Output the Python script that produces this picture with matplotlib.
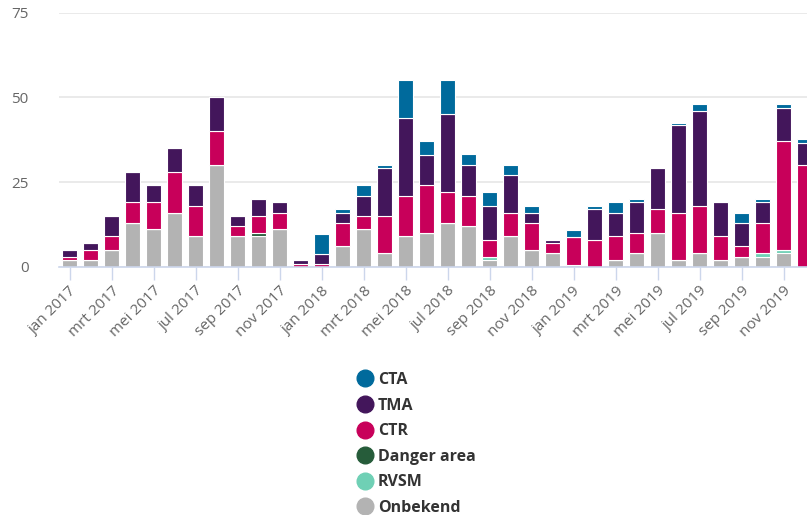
import numpy as np
import matplotlib
matplotlib.use("Agg")
import matplotlib.pyplot as plt
from matplotlib.lines import Line2D

plt.rcParams['font.family'] = ['Open Sans', 'DejaVu Sans']

maanden = ["jan", "feb", "mrt", "apr", "mei", "jun", "jul", "aug", "sep", "okt", "nov", "dec"]
jaren = [2017, 2018, 2019]
labels = [m + " " + str(j) for j in jaren for m in maanden]

# waarden per maand, jan 2017 t/m dec 2019
onbekend = [2, 2, 5, 13, 11, 16, 9, 30, 9, 9, 11, 0,
            0, 6, 11, 4, 9, 10, 13, 12, 2, 9, 5, 4,
            0.6, 0, 2, 4, 10, 2, 4, 2, 3, 3, 4, 0]
rvsm = [0, 0, 0, 0, 0, 0, 0, 0, 0, 0, 0, 0,
        0, 0, 0, 0, 0, 0, 0, 0, 1, 0, 0, 0,
        0, 0, 0, 0, 0, 0, 0, 0, 0, 1, 1, 0]
danger = [0, 0, 0, 0, 0, 0, 0, 0, 0, 1, 0, 0,
          0, 0, 0, 0, 0, 0, 0, 0, 0, 0, 0, 0,
          0, 0, 0, 0, 0, 0, 0, 0, 0, 0, 0, 0]
ctr = [1, 3, 4, 6, 8, 12, 9, 10, 3, 5, 5, 0.7,
       0.7, 7, 4, 11, 12, 14, 9, 9, 5, 7, 8, 3,
       8.2, 8, 7, 6, 7, 14, 14, 7, 3, 9, 32, 30]
tma = [2, 2, 6, 9, 5, 7, 6, 10, 3, 5, 3, 1.2,
       3, 3, 6, 14, 23, 9, 23, 9, 10, 11, 3, 1,
       0, 9, 7, 9, 12, 25.8, 28, 10, 7, 6, 10, 6.5]
cta = [0, 0, 0, 0, 0, 0, 0, 0, 0, 0, 0, 0,
       6, 1, 3, 1, 11, 4, 10, 3.3, 4, 3, 2, 0,
       2, 1, 3, 1, 0, 0.6, 2, 0, 3, 1, 1, 1.3]

series = [
    ("Onbekend", onbekend, "#b3b3b3"),
    ("RVSM", rvsm, "#6fd0b5"),
    ("Danger area", danger, "#265c3a"),
    ("CTR", ctr, "#c8005a"),
    ("TMA", tma, "#43165b"),
    ("CTA", cta, "#006a9c"),
]

W, H = 807, 515
fig = plt.figure(figsize=(W / 100, H / 100), dpi=100)
left, right = 59, 815
bottom, top = 266.7, 12.7
ax = fig.add_axes([left / W, 1 - bottom / H, (right - left) / W, (bottom - top) / H])

x = np.arange(len(labels))
base = np.zeros(len(labels))
for naam, vals, kleur in series:
    vals = np.array(vals, dtype=float)
    ax.bar(x, vals, bottom=base, width=0.72, color=kleur, edgecolor="white", linewidth=0.8, zorder=3)
    base += vals

ax.set_xlim(-0.5, len(labels) - 0.5)
ax.set_ylim(0, 75)
ax.set_yticks([0, 25, 50, 75])
ax.yaxis.grid(True, color="#e6e6e6", linewidth=1.2, zorder=0)
for s in ["top", "right", "left"]:
    ax.spines[s].set_visible(False)
ax.spines["bottom"].set_color("#ccd6eb")
ax.spines["bottom"].set_linewidth(1.2)
ax.spines["bottom"].set_zorder(4)
ax.tick_params(axis="y", length=0, pad=22, labelsize=11, labelcolor="#666666")
ax.set_xticks(x[::2])
ax.set_xticklabels(labels[::2], rotation=45, ha="right", va="top", rotation_mode="anchor")
ax.tick_params(axis="x", length=9, width=1, color="#ccd6eb", pad=3, labelsize=11, labelcolor="#666666")

order = ["CTA", "TMA", "CTR", "Danger area", "RVSM", "Onbekend"]
kleuren = {n: k for n, _, k in series}
handles = [Line2D([], [], marker="o", linestyle="", markersize=12, color=kleuren[n]) for n in order]
leg = fig.legend(handles, order, loc="upper left", bbox_to_anchor=(345 / W, 1 - 364 / H),
                 frameon=False, prop={"weight": "bold", "size": 11.5}, labelspacing=0.6,
                 handletextpad=0.05, handlelength=1.5, borderpad=0)
for t in leg.get_texts():
    t.set_color("#333333")

fig.savefig("out.png", dpi=100)
